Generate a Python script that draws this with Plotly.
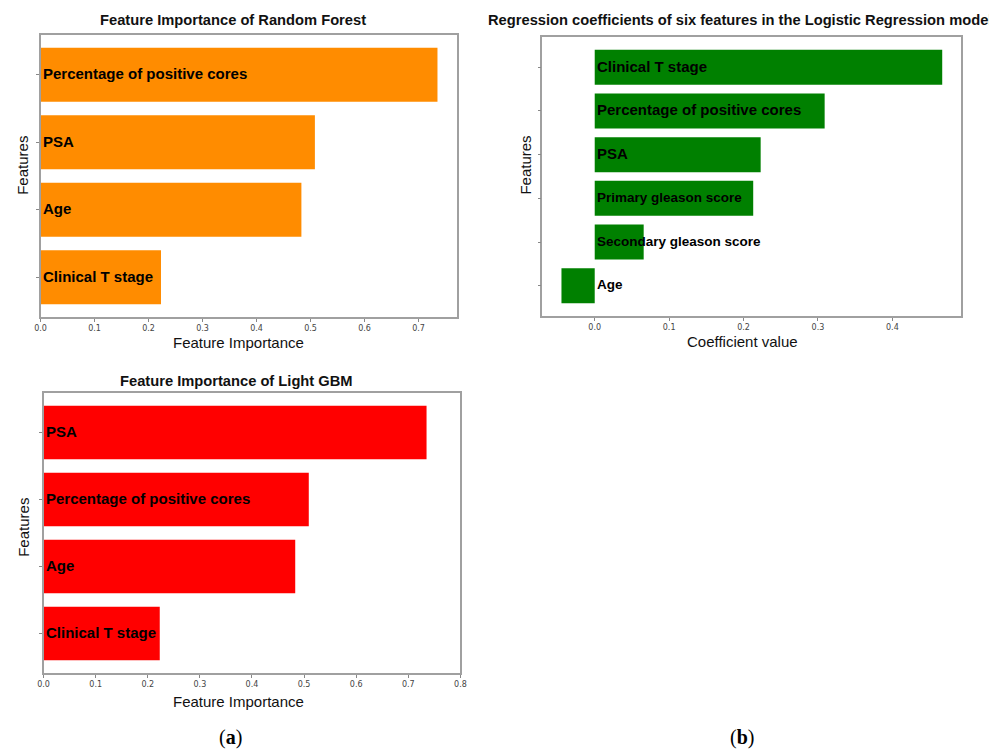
import plotly.graph_objects as go

W, H = 989, 749

# ---- data ----
rf_features = ["Clinical T stage", "Age", "PSA", "Percentage of positive cores"]
rf_importance = [0.223, 0.483, 0.508, 0.735]

lgbm_features = ["Clinical T stage", "Age", "Percentage of positive cores", "PSA"]
lgbm_importance = [0.223, 0.483, 0.509, 0.735]

lr_features = ["Age", "Secondary gleason score", "Primary gleason score", "PSA",
               "Percentage of positive cores", "Clinical T stage"]
lr_coef = [-0.0447, 0.0658, 0.213, 0.223, 0.309, 0.467]

rf_ticks = [0.0, 0.1, 0.2, 0.3, 0.4, 0.5, 0.6, 0.7]
lgbm_ticks = [0.0, 0.1, 0.2, 0.3, 0.4, 0.5, 0.6, 0.7, 0.8]
lr_ticks = [0.0, 0.1, 0.2, 0.3, 0.4]

fig = go.Figure()

def px_x(x):
    return x / W

def px_y(y):
    return 1 - y / H

panels = [
    (rf_features, rf_importance, "#FF8C00", "", 35, 457, 35, 317, [0, 0.772], rf_ticks, None),
    (lr_features, lr_coef, "#008000", "2", 543, 967, 37, 316, [-0.0703, 0.4926], lr_ticks,
     [13.5, 13.5, 13.5, 15, 15, 15]),
    (lgbm_features, lgbm_importance, "#FF0000", "3", 38, 460, 393, 673, [0, 0.8], lgbm_ticks, None),
]

ann = []
layout_axes = {}
for feats, vals, color, sfx, x0, x1, y0, y1, xr, ticks, sizes in panels:
    xa = "x" + sfx
    ya = "y" + sfx
    n = len(feats)
    fig.add_trace(go.Bar(
        x=vals, y=feats, orientation="h", width=0.8,
        marker=dict(color=color, line=dict(width=0)),
        xaxis=xa, yaxis=ya, showlegend=False, hoverinfo="x+y",
    ))
    for i, f in enumerate(feats):
        ann.append(dict(
            x=0, y=f, xref=xa, yref=ya, text=f, showarrow=False,
            xanchor="left", yanchor="middle", xshift=0, yshift=1,
            font=dict(family="Liberation Sans, Arial", size=sizes[i] if sizes else 15,
                      color="black", weight="bold"),
        ))
    margin = 0.05 * (n - 1 + 0.8)
    layout_axes["xaxis" + sfx] = dict(
        domain=[px_x(x0), px_x(x1)], anchor=ya, range=xr,
        tickvals=ticks, ticktext=[f"{t:.1f}" for t in ticks],
        ticks="outside", ticklen=3, tickcolor="#888",
        tickfont=dict(family="DejaVu Sans", size=8, color="#444"),
        showgrid=False, zeroline=False,
        showline=True, linecolor="#a0a0a0", linewidth=1.5, mirror=True,
    )
    layout_axes["yaxis" + sfx] = dict(
        domain=[px_y(y1), px_y(y0)], anchor=xa,
        type="category", categoryorder="array", categoryarray=feats,
        range=[-0.4 - margin, n - 1 + 0.4 + margin],
        showticklabels=False, ticks="outside", ticklen=3, tickcolor="#888",
        showgrid=False, zeroline=False,
        showline=True, linecolor="#a0a0a0", linewidth=1.5, mirror=True,
    )

fig.update_layout(**layout_axes)

def text(x, y, t, size, bold=False, family="Liberation Sans, Arial", angle=0,
         xanchor="center", color="#111"):
    ann.append(dict(
        x=px_x(x), y=px_y(y), xref="paper", yref="paper", text=t, showarrow=False,
        xanchor=xanchor, yanchor="middle", textangle=angle,
        font=dict(family=family, size=size, color=color, weight="bold" if bold else "normal"),
    ))

text(230, 20, "Feature Importance of Random Forest", 14.7, bold=True)
text(486, 20, "Regression coefficients of six features in the Logistic Regression model", 14.7,
     bold=True, xanchor="left")
text(233, 381, "Feature Importance of Light GBM", 14.7, bold=True)

text(235, 343, "Feature Importance", 15)
text(235, 701, "Feature Importance", 15)
text(746, 342, "Coefficient value", 15)

text(17, 165, "Features", 15, angle=-90)
text(17, 527, "Features", 15, angle=-90)
text(526, 165, "Features", 15, angle=-90)

text(227, 737, "(<b>a</b>)", 20, family="Liberation Serif, DejaVu Serif", color="#000")
text(745, 737, "(<b>b</b>)", 20, family="Liberation Serif, DejaVu Serif", color="#000")

fig.update_layout(
    width=W, height=H, margin=dict(l=0, r=0, t=0, b=0),
    paper_bgcolor="white", plot_bgcolor="white",
    annotations=ann, showlegend=False,
)

fig.write_html("out.html", config={"displayModeBar": False},
               post_script="document.body.style.margin='0px';")
